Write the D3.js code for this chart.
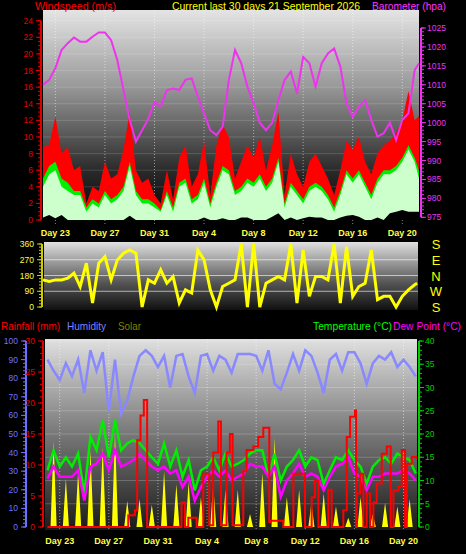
<!DOCTYPE html>
<html><head><meta charset="utf-8">
<script src="https://cdn.jsdelivr.net/npm/d3@7"></script>
<style>body{margin:0;background:#000}svg{display:block}text{font-family:"Liberation Sans",Arial,sans-serif}</style>
</head><body><svg id="c" width="466" height="554"></svg>
<script>
const dayLabels=["Day 23","Day 27","Day 31","Day 4","Day 8","Day 12","Day 16","Day 20"];
const dayTicks=[1,5,9,13,17,21,25,29];
const gust=[8.8,9,12.5,8,8.8,6,6.5,2,4,3.5,7,5,5.5,8.5,13,6,4.5,5,3,2,6,2.5,7.5,9,4,5.5,9.5,3,9,11.5,10,5,7,9,7.5,10,6,9,13,3,8,5.5,4,7,8,6.5,5,3,6,9.5,8.5,10,7,5.5,8,9,9.5,10.5,12,15.5,12,12.5];
const avg=[5,6.5,7,5,4.5,3.5,3.5,1.5,2.5,2,3.5,2.5,3,4,7,3.5,2.5,2.5,2,1.2,3.5,1.5,4.5,5,2.5,3,5,2,4.5,6.5,6,3.5,4,5,4.5,5.5,4,5,7.5,2,4.5,3.5,2.5,4,4.5,4,3,1.5,3.5,6,5,6,4.5,3,5,6,6,6.5,7.5,9,7.5,6];
const low=[4,5.5,6,4,3.5,3,3,1,2,1.5,3,2,2.5,3.5,6.5,3,2,2,1.5,1,3,1,4,4.5,2,2.5,4.5,1.5,4,6,5.5,3,3.5,4.5,4,5,3.5,4.5,7,1.5,4,3,2,3.5,4,3.5,2.5,1,3,5.5,4.5,5.5,4,2.5,4.5,5.5,5.5,6,7,8.5,7,5];
const calm=[0.3,0.6,0.2,0.6,0,0,0,0,0,0,0,0,0,0,0.5,0,0,0,0,0,0,0,0,0,0,0,0.3,0,0,0.2,0,0,0.3,0.3,0,0,0,0.4,0.8,0,0.3,0,0.2,0.4,0.3,0.3,0,0,0.3,0.5,0.6,0.4,0,0,0.3,0,0.8,1,1.2,1,1,1];
const baro=[1010,1011.3,1014.4,1019.2,1021,1022.5,1021.4,1021.4,1022.7,1023.8,1023.8,1021.8,1016.5,1008.6,1000.7,995,998,1001,1005.5,1004.2,1008.6,1009,1008.6,1011.3,1011.7,1006.9,1002.5,998,996.7,998.9,1011.3,1019.2,1015.7,1009.5,1005.1,1000,998,1000,1006,1011.3,1013.5,1007.7,1017.4,1015.7,1009.5,1015.7,1018.3,1019.6,1014.8,1005.1,1001.6,1004.2,1006,1000.7,996.3,997.2,1000,995.4,1000.7,1002.5,1013.9,1015.7];
const dir=[155,146,155,155,165,193,117,250,23,250,288,155,269,307,326,307,0,155,136,212,136,174,23,98,80,326,269,98,0,117,136,155,360,0,360,0,136,155,174,155,360,23,326,61,174,174,155,360,23,345,61,117,136,326,42,61,61,0,61,98,127,136];
const hum=[90,84,79,88,81,90,72,95,84,94,62,90,61,68,81,92,95,92,86,92,75,92,93,81,72,92,93,84,92,90,83,93,93,93,92,84,95,77,74,83,93,84,95,92,83,72,90,93,84,94,94,88,77,88,92,90,94,86,90,86,81];
const temp=[12.2,16.5,13,15,13,15.8,7.2,19.4,16.5,23,15,23,16.5,18,18.7,18,16.5,15,13.6,18,13,16.5,10.8,14.4,7.9,12.2,13,15,12.2,15.8,13,13.6,14.4,15.8,16.5,16.5,10.8,15.8,10,13,14.4,16.5,13,15,14.4,9.3,12.2,15,14.4,16.5,14.4,13,9.3,13,14.4,15,13.6,15.8,15,14.4,11.5];
const dew=[10.4,13,10.8,10.8,10.8,12.2,5.7,13,13.6,15.8,12.2,16.5,13,13.6,14.4,15.8,14.4,13,12.2,13,11.5,12.2,8.6,10.8,5.7,8.6,10.8,12.2,10.8,12.2,10,10.8,11.5,13.6,13,13,10.8,13,6.5,10,11.5,13.6,10.8,11.5,10.8,7.9,10.8,13,13.6,15,11.5,10.8,7.9,10.8,10.8,11.5,11.5,11.5,12.2,11.5,10];
// quarter-day samples
const solar=[0,0,46,0, 0,0,26,0, 0,0,30,0, 0,0,41,0, 0,0,43,0, 0,0,50,0, 0,0,14,0, 0,0,15,0, 0,0,12,0, 0,0,30,0,
 0,0,23,0, 0,0,24,0, 0,0,16,0, 0,0,23,0, 0,0,20,0, 0,0,20,0, 0,0,7,0, 0,0,29,0, 0,0,48,0, 0,0,16,0,
 0,0,20,0, 0,0,13,0, 0,0,18,0, 0,0,11,0, 0,0,5,0, 0,0,16,0, 0,0,7,0, 0,0,13,0, 0,0,11,0, 0,0,15,0, 0];
const rainT=[0,6.58,7.12,7.31,7.58,7.85,8.12,10.92,11.2,11.47,12.15,12.69,13.18,13.5,13.91,14.13,14.59,14.86,15.08,15.95,16.22,16.77,17.17,17.58,18.07,18.13,19.21,20.03,20.98,21.52,21.79,22.07,22.88,23.15,24.1,24.38,24.65,25.05,25.14,25.19,25.46,25.73,26.0,26.28,26.55,26.82,27.23,27.64,27.96,28.18,28.59,28.86,29.13,29.27,29.67,30.03];
const rainV=[0,1.9,2.7,14,18,20.5,0,4,0,1.5,0,8.6,0.3,12,17,0.3,12,15,0.3,9,12.4,13,14.5,16,0.8,1,0,8.6,0,4.8,7.5,0,6,0,2.7,14.5,17.8,18.8,0,5.4,8.6,0,5.4,0,4,7,11.8,13,0,5.9,6.5,12.4,0,10.2,11.3,11];

const svg=d3.select("#c");
const defs=svg.append("defs");
function grad(id,stops){const g=defs.append("linearGradient").attr("id",id).attr("x1",0).attr("x2",0).attr("y1",0).attr("y2",1);stops.forEach(s=>g.append("stop").attr("offset",s[0]).attr("stop-color",s[1]));}
grad("gTop",[[0,"#e4e4e4"],[0.35,"#9a9a9a"],[0.75,"#2a2a2a"],[1,"#000"]]);
grad("gDir",[[0,"#e0e0e0"],[0.6,"#555"],[1,"#111"]]);
grad("gBot",[[0,"#e0e0e0"],[0.5,"#777"],[1,"#1a1a1a"]]);
const half=(d,i)=>i*0.5;

function txt(x,y,s,c,size,anchor,len){const t=svg.append("text").attr("x",x).attr("y",y).attr("fill",c).attr("font-size",size||11).attr("text-anchor",anchor||"start").text(s);if(len)t.attr("textLength",len).attr("lengthAdjust","spacingAndGlyphs");}
function yAxis(scale,vals,x,col,side,minor,lab){
  const g=svg.append("g");
  g.append("line").attr("x1",x).attr("x2",x).attr("y1",scale.range()[0]).attr("y2",scale.range()[1]).attr("stroke",col).attr("stroke-width",2);
  minor.forEach(v=>g.append("line").attr("x1",x).attr("x2",x+side*3).attr("y1",scale(v)).attr("y2",scale(v)).attr("stroke",col));
  vals.forEach(v=>{g.append("line").attr("x1",x).attr("x2",x+side*5).attr("y1",scale(v)).attr("y2",scale(v)).attr("stroke",col);
    g.append("text").attr("x",side<0?x-8:x+6).attr("y",scale(v)+3).attr("fill",lab||col).attr("font-size",8.5).attr("text-anchor",side<0?"end":"start").text(v);});
}
function xLabels(x,y){dayTicks.forEach((t,i)=>svg.append("text").attr("x",x(t)).attr("y",y).attr("fill","#ffff40").attr("font-size",9).attr("font-weight","bold").attr("text-anchor","middle").text(dayLabels[i]));}
function vgrid(x,y0,y1){dayTicks.forEach(t=>svg.append("line").attr("x1",x(t)).attr("x2",x(t)).attr("y1",y0).attr("y2",y1).attr("stroke","#fff").attr("stroke-opacity",0.5).attr("stroke-dasharray","1,2"));}

// ---- top panel
const xT=d3.scaleLinear().domain([0,30.35]).range([43,419]);
const yW=d3.scaleLinear().domain([0,24]).range([220,20.7]);
const yB=d3.scaleLinear().domain([975,1025]).range([217.3,28]);
svg.append("rect").attr("x",43).attr("y",10).attr("width",376).attr("height",214).attr("fill","url(#gTop)");
d3.range(2,25,2).forEach(v=>svg.append("line").attr("x1",43).attr("x2",419).attr("y1",yW(v)).attr("y2",yW(v)).attr("stroke","#fff").attr("stroke-opacity",0.15));
vgrid(xT,10,224);
const area=(arr,col)=>svg.append("path").datum(arr).attr("fill",col).attr("d",d3.area().x((d,i)=>xT(Math.min(half(d,i),30.35))).y0(yW(0)).y1(d=>yW(d)));
area(gust,"#ff0000");area(avg,"#00ee00");area(low,"#ccffcc");area(calm,"#000");
svg.append("path").datum(baro).attr("fill","none").attr("stroke","#ee33ee").attr("stroke-width",2).attr("d",d3.line().x((d,i)=>xT(Math.min(half(d,i),30.35))).y(d=>yB(d)));
yAxis(yW,d3.range(0,25,2),41,"#e00000",-1,d3.range(0,24.5,0.5));
yAxis(yB,d3.range(975,1026,5),421,"#ee33ee",1,d3.range(975,1026,1));
xLabels(xT,236);
txt(35,10,"Windspeed (m/s)","#ff0000",11,"start",81);
txt(172,10,"Current last 30 days 21 September 2026","#ffff00",11,"start",188);
txt(372,10,"Barometer (hpa)","#ff33ff",11,"start",74);

// ---- direction panel
const yD=d3.scaleLinear().domain([0,360]).range([307,244]);
svg.append("rect").attr("x",44).attr("y",242).attr("width",374).attr("height",68).attr("fill","url(#gDir)");
[90,180,270].forEach(v=>svg.append("line").attr("x1",44).attr("x2",418).attr("y1",yD(v)).attr("y2",yD(v)).attr("stroke","#fff").attr("stroke-opacity",0.6));
svg.append("path").datum(dir).attr("fill","none").attr("stroke","#ffff00").attr("stroke-width",3).attr("d",d3.line().x((d,i)=>xT(Math.min(half(d,i),30.2))).y(d=>yD(d)));
yAxis(yD,[0,90,180,270,360],42,"#cccc00",-1,d3.range(0,361,18),"#ffff40");
["S","E","N","W","S"].forEach((s,i)=>txt(436,yD(360-i*90)+5,s,"#ffff00",13,"middle"));

// ---- legend row
txt(1,330,"Rainfall (mm)","#ff0000",11,"start",59);
txt(67,330,"Humidity","#8080ff",11,"start",39);
txt(118,330,"Solar","#808000",11,"start",23);
txt(313,330,"Temperature (°C)","#00ff00",11,"start",79);
txt(393,330,"Dew Point (°C)","#ff00ff",11,"start",68);

// ---- bottom panel
const xB=d3.scaleLinear().domain([-0.2,30.1]).range([45,417]);
const yH=d3.scaleLinear().domain([0,100]).range([527,341]);
const yR=d3.scaleLinear().domain([0,30]).range([527,341]);
const yTp=d3.scaleLinear().domain([0,40]).range([527,341]);
svg.append("rect").attr("x",45).attr("y",339).attr("width",372).attr("height",191).attr("fill","url(#gBot)");
d3.range(5,41,5).forEach(v=>svg.append("line").attr("x1",45).attr("x2",417).attr("y1",yTp(v)).attr("y2",yTp(v)).attr("stroke","#fff").attr("stroke-opacity",0.2));
vgrid(xB,339,530);
svg.append("path").datum(solar).attr("fill","#ffff00").attr("d",d3.area().x((d,i)=>xB(i*0.25)).y0(yH(0)).y1(d=>yH(d)));
svg.append("path").datum(hum).attr("fill","none").attr("stroke","#8888ff").attr("stroke-width",2.5).attr("d",d3.line().x((d,i)=>xB(half(d,i))).y(d=>yH(d)));
svg.append("path").datum(temp).attr("fill","none").attr("stroke","#00ee00").attr("stroke-width",2.5).attr("d",d3.line().x((d,i)=>xB(half(d,i))).y(d=>yTp(d)));
svg.append("path").datum(dew).attr("fill","none").attr("stroke","#ff00ff").attr("stroke-width",2.5).attr("d",d3.line().x((d,i)=>xB(half(d,i))).y(d=>yTp(d)));
svg.append("path").datum(rainT).attr("fill","none").attr("stroke","#ff0000").attr("stroke-width",2).attr("d",d3.line().curve(d3.curveStepAfter).x(d=>xB(d)).y((d,i)=>yR(rainV[i])));
yAxis(yH,d3.range(0,101,10),26,"#7070ff",-1,d3.range(0,101,2));
yAxis(yR,d3.range(0,31,5),43,"#e00000",-1,d3.range(0,31,1));
yAxis(yTp,d3.range(0,41,5),419,"#00cc00",1,d3.range(0,41,1));
xLabels(xB,544);
</script></body></html>
